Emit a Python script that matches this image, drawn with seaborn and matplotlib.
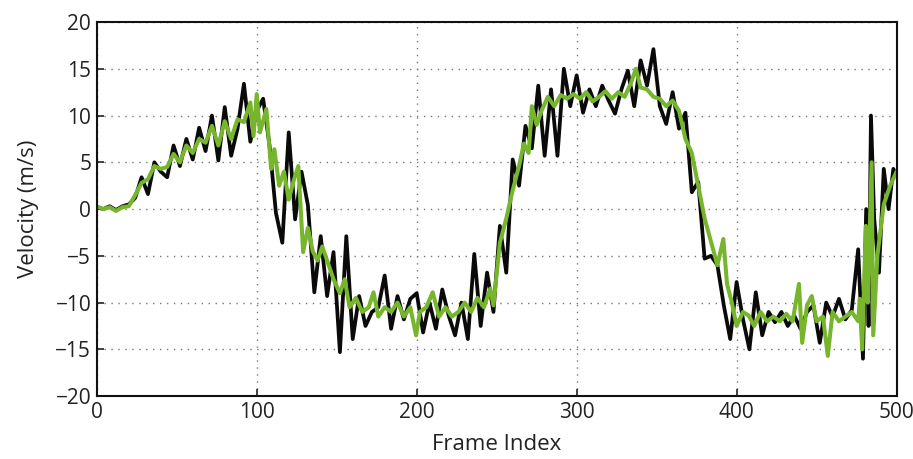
import matplotlib
matplotlib.use("Agg")
import matplotlib.pyplot as plt
import seaborn as sns
import pandas as pd

# ---- data ----
black_frames = [0, 4, 8, 12, 16, 20, 24, 28, 32, 36, 40, 44, 48, 52, 56, 60, 64, 68, 72, 76,
                80, 84, 88, 92, 96, 100, 104, 108, 112, 116, 120, 124, 128, 132, 136, 140, 144, 148, 152, 156,
                160, 164, 168, 172, 176, 180, 184, 188, 192, 196, 200, 204, 208, 212, 216, 220, 224, 228, 232, 236,
                240, 244, 248, 252, 256, 260, 264, 268, 272, 276, 280, 284, 288, 292, 296, 300, 304, 308, 312, 316,
                320, 324, 328, 332, 336, 340, 344, 348, 352, 356, 360, 364, 368, 372, 376, 380, 384, 388, 392, 396,
                400, 404, 408, 412, 416, 420, 424, 428, 432, 436, 440, 444, 448, 452, 456, 460, 464, 468, 472, 476,
                479, 481, 482.5, 484, 486, 489, 492, 495, 498, 500]
black_vel = [0.2, 0.0, 0.3, -0.1, 0.3, 0.5, 1.2, 3.4, 1.6, 5.0, 4.0, 3.4, 6.8, 4.6, 7.5, 5.3, 8.7, 6.2, 10.0, 5.2,
             10.9, 5.7, 8.6, 13.4, 7.2, 10.5, 11.8, 6.8, -0.4, -3.6, 8.2, -1.1, 4.0, 0.4, -8.9, -2.9, -9.3, -4.6, -15.3, -2.9,
             -13.9, -9.3, -12.5, -11.0, -10.5, -7.1, -12.8, -9.3, -11.8, -9.6, -9.0, -13.2, -10.0, -12.8, -8.6, -11.4, -13.5, -10.0, -13.9, -4.8,
             -12.5, -6.8, -11.0, -1.8, -6.8, 5.3, 2.5, 8.9, 6.5, 13.2, 5.7, 12.8, 5.7, 15.0, 11.0, 14.3, 10.3, 12.8, 11.0, 13.2,
             11.6, 10.2, 12.8, 14.8, 11.0, 15.9, 13.2, 17.1, 11.0, 9.1, 12.5, 8.6, 10.3, 1.8, 2.9, -5.3, -5.0, -6.0, -10.3, -13.9,
             -7.8, -11.8, -15.0, -8.9, -13.5, -11.0, -12.1, -11.0, -12.5, -11.4, -12.8, -11.0, -10.3, -14.3, -10.0, -11.5, -9.6, -11.8, -10.8, -4.3,
             -16.0, 0.0, -12.5, 10.0, -1.0, -6.8, 4.3, 0.0, 4.3, 3.5]

green_frames = [0, 4, 8, 12, 16, 20, 24, 28, 32, 36, 40, 44, 48, 52, 56, 60, 64, 68, 72, 76,
                80, 84, 88, 92, 96, 98, 100, 102, 106, 109, 111, 114, 117, 120, 123, 126, 129, 132, 135, 138,
                141, 145, 148, 152, 155, 158, 162, 166, 170, 173, 176, 180, 184, 188, 192, 196, 199.6, 202, 206, 210,
                214, 218, 222, 226, 230, 234, 238, 242, 246, 248, 252, 256, 260, 264, 267, 270, 272, 275, 278, 282,
                286, 290, 294, 298, 302, 306, 310, 314, 318, 322, 326, 330, 334, 337, 340, 344, 348, 352, 356, 360,
                364, 368, 372, 376, 380, 384, 388, 391.7, 394, 397, 400, 404, 407.6, 411, 415, 419, 423, 427, 431, 435,
                439, 441, 444, 447, 450, 454, 457, 460, 464, 468, 472, 476, 477, 478.5, 480.8, 482, 484.4, 485.4, 488, 492,
                496, 500]
green_vel = [0.3, 0.0, 0.2, -0.2, 0.2, 0.3, 1.5, 2.8, 3.2, 4.6, 4.3, 4.5, 5.9, 5.0, 6.8, 6.0, 7.5, 7.1, 8.9, 6.8,
             9.4, 7.5, 9.6, 9.3, 11.4, 7.8, 12.3, 8.2, 10.7, 4.3, 6.4, 2.5, 4.0, 1.0, 3.0, 4.6, -4.6, -2.0, -4.5, -5.5,
             -4.0, -6.0, -7.5, -9.0, -7.5, -10.5, -9.5, -11.0, -10.5, -8.9, -11.5, -10.5, -11.0, -10.0, -11.5, -10.5, -13.5, -11.0, -10.5, -8.9,
             -11.5, -10.5, -11.5, -11.0, -10.0, -11.0, -9.5, -10.5, -8.5, -10.3, -3.6, -1.0, 2.0, 4.6, 7.0, 6.0, 11.0, 9.0, 10.5, 12.0,
             11.0, 12.2, 11.8, 12.3, 11.8, 12.5, 11.5, 12.0, 12.6, 11.8, 12.5, 12.0, 13.5, 15.0, 13.0, 12.8, 12.0, 11.8, 11.0, 11.6,
             10.5, 7.5, 6.0, 2.5, -1.0, -3.5, -6.0, -3.2, -8.0, -10.0, -12.5, -11.0, -11.4, -12.5, -11.0, -12.0, -11.5, -12.0, -11.2, -12.0,
             -8.0, -14.3, -10.3, -9.3, -12.0, -11.5, -15.7, -11.0, -12.0, -11.5, -11.0, -12.0, -9.6, -15.0, -1.8, -10.0, 5.0, -13.5, -5.0, 0.5,
             2.5, 4.0]

x_ticks = [0, 100, 200, 300, 400, 500]
y_ticks = [-20, -15, -10, -5, 0, 5, 10, 15, 20]

df_black = pd.DataFrame({"frame": black_frames, "vel": black_vel})
df_green = pd.DataFrame({"frame": green_frames, "vel": green_vel})

sns.set_style("white")
plt.rcParams['font.family'] = ['Open Sans', 'DejaVu Sans']

fig = plt.figure(figsize=(9.13, 4.59), dpi=100)
ax = fig.add_axes([0.106, 0.137, 0.876, 0.815])

sns.lineplot(data=df_black, x="frame", y="vel", color="#0a0a0a", lw=2.7, ax=ax,
             estimator=None, sort=False)
sns.lineplot(data=df_green, x="frame", y="vel", color="#76b52c", lw=2.9, ax=ax,
             estimator=None, sort=False)

ax.set_xlim(0, 500)
ax.set_ylim(-20, 20)
ax.set_xticks(x_ticks)
ax.set_yticks(y_ticks)
ax.set_xticklabels([str(t) for t in x_ticks])
ax.set_yticklabels([str(t).replace('-', '\u2212') for t in y_ticks])
ax.grid(True, linestyle=(0, (1, 4)), color="#777777", linewidth=1.0)
ax.tick_params(direction="in", length=5, width=1.2, labelsize=15, colors="#222222",
               top=False, right=False, bottom=True, left=True, pad=4)
for s in ax.spines.values():
    s.set_visible(True)
    s.set_color("#111111")
    s.set_linewidth(1.5)
ax.set_xlabel("Frame Index", fontsize=16, color="#222222", labelpad=8)
ax.set_ylabel("Velocity (m/s)", fontsize=16, color="#222222", labelpad=12)

fig.savefig("out.png", dpi=100, facecolor="white")
